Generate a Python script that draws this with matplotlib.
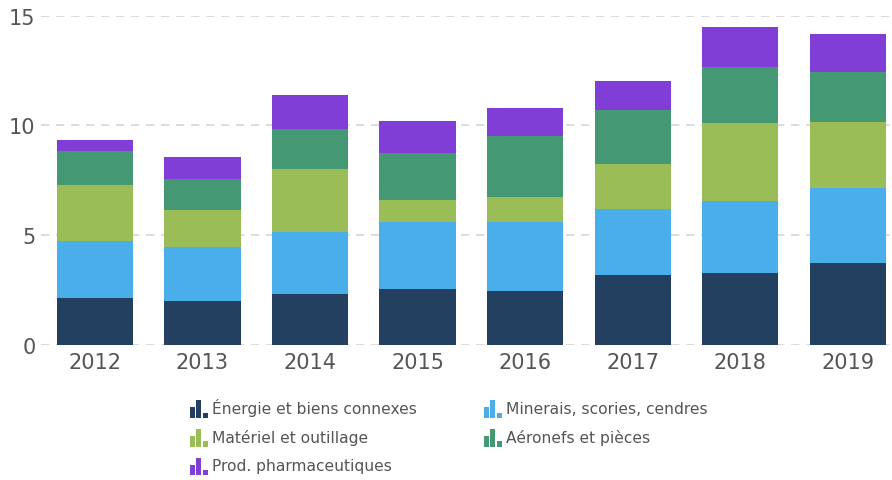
import matplotlib
matplotlib.use("Agg")
import matplotlib.pyplot as plt
from matplotlib.patches import Rectangle, Patch
from matplotlib.legend_handler import HandlerBase
import numpy as np

# Données
annees = ["2012", "2013", "2014", "2015", "2016", "2017", "2018", "2019"]
energie = [2.14, 2.00, 2.32, 2.55, 2.46, 3.19, 3.28, 3.74]
minerais = [2.61, 2.46, 2.83, 3.05, 3.14, 3.02, 3.29, 3.41]
materiel = [2.54, 1.69, 2.87, 1.01, 1.14, 2.04, 3.54, 3.01]
aeronefs = [1.55, 1.41, 1.82, 2.14, 2.78, 2.46, 2.56, 2.28]
pharma = [0.50, 1.00, 1.55, 1.45, 1.28, 1.32, 1.82, 1.73]

series = [
    ("Énergie et biens connexes", energie, "#244061"),
    ("Minerais, scories, cendres", minerais, "#4aaeea"),
    ("Matériel et outillage", materiel, "#9bbd58"),
    ("Aéronefs et pièces", aeronefs, "#459874"),
    ("Prod. pharmaceutiques", pharma, "#803ed6"),
]


# Petite icône "histogramme" pour la légende
class IconeBarres(HandlerBase):
    def create_artists(self, legend, orig_handle, xdescent, ydescent,
                       width, height, fontsize, trans):
        c = orig_handle.get_facecolor()
        bw = width / 3.6
        gap = (width - 3 * bw) / 2
        hauteurs = [0.6, 1.0, 0.3]
        arts = []
        for i, h in enumerate(hauteurs):
            r = Rectangle((-xdescent + i * (bw + gap), -ydescent - 1), bw, height * h,
                          facecolor=c, edgecolor="none", transform=trans)
            arts.append(r)
        return arts


fig = plt.figure(figsize=(8.92, 4.81), dpi=100)
ax = fig.add_axes([41 / 892, 1 - 346 / 481, 1 - 41 / 892, (346 - 16.7) / 481])

x = np.arange(len(annees))
bas = np.zeros(len(annees))
handles = []
for nom, vals, coul in series:
    ax.bar(x, vals, 0.71, bottom=bas, color=coul, zorder=3)
    bas += np.array(vals)
    handles.append(Patch(facecolor=coul, label=nom))

ax.set_xlim(-0.5, 7.41)
ax.set_ylim(0, 15)
ax.set_yticks([0, 5, 10, 15])
ax.set_xticks(x)
ax.set_xticklabels(annees)
ax.grid(axis="y", color="#d5d5d5", linestyle=(0, (5, 4)), linewidth=1.2, zorder=0)
for s in ax.spines.values():
    s.set_visible(False)
ax.tick_params(axis="both", length=0, labelsize=15, labelcolor="#555555")
ax.tick_params(axis="x", pad=5)
ax.tick_params(axis="y", pad=4)

# ordre en lignes comme l'original (matplotlib remplit par colonnes)
ordre = [0, 2, 4, 1, 3]
leg = fig.legend(handles=[handles[i] for i in ordre], loc="upper left",
                 bbox_to_anchor=(176 / 892, 1 - 385 / 481),
                 ncol=2, frameon=False, fontsize=11.2, labelcolor="#555555",
                 handler_map={Patch: IconeBarres()}, handlelength=1.15, handleheight=1.35,
                 handletextpad=0.26, columnspacing=4.3, labelspacing=0.72)

fig.savefig("out.png", dpi=100)
